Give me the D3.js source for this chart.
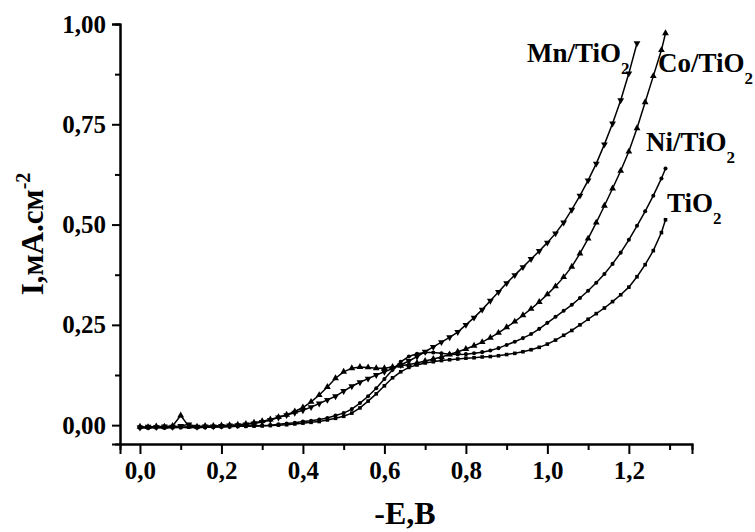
<!DOCTYPE html>
<html>
<head>
<meta charset="utf-8">
<script src="https://cdn.jsdelivr.net/npm/d3@7"></script>
<style>
  body { margin: 0; background: #fff; }
  text { font-family: "Liberation Serif", "Times New Roman", serif; font-weight: bold; fill: #000; }
</style>
</head>
<body>
<div id="ch"></div>
<script>
// Polarisation curves, -E (V) vs I (mA/cm2)

const potential = [0.00,0.02,0.04,0.06,0.08,0.10,0.12,0.14,0.16,0.18,
  0.20,0.22,0.24,0.26,0.28,0.30,0.32,0.34,0.36,0.38,
  0.40,0.42,0.44,0.46,0.48,0.50,0.52,0.54,0.56,0.58,
  0.60,0.62,0.64,0.66,0.68,0.70,0.72,0.74,0.76,0.78,
  0.80,0.82,0.84,0.86,0.88,0.90,0.92,0.94,0.96,0.98,
  1.00,1.02,1.04,1.06,1.08,1.10,1.12,1.14,1.16,1.18,
  1.20,1.22,1.24,1.26,1.28,1.29];

const mnTiO2 = [-0.006,-0.004,-0.005,-0.003,-0.004,-0.002,0.002,-0.004,-0.003,-0.003,
  -0.002,-0.001,0.000,0.002,0.004,0.008,0.013,0.019,0.025,0.031,
  0.037,0.045,0.054,0.063,0.072,0.085,0.097,0.107,0.116,0.125,
  0.133,0.141,0.150,0.160,0.171,0.183,0.195,0.207,0.219,0.232,
  0.250,0.268,0.288,0.310,0.332,0.354,0.374,0.394,0.414,0.434,
  0.455,0.478,0.505,0.537,0.572,0.610,0.652,0.700,0.752,0.810,
  0.877,0.952];

const coTiO2 = [-0.004,-0.005,-0.003,-0.004,-0.002,0.024,-0.003,-0.004,-0.002,-0.002,
  -0.001,0.000,0.001,0.003,0.006,0.010,0.014,0.020,0.026,0.034,
  0.044,0.058,0.075,0.095,0.117,0.133,0.142,0.145,0.144,0.142,
  0.142,0.145,0.148,0.151,0.155,0.160,0.165,0.170,0.176,0.183,
  0.190,0.198,0.207,0.218,0.230,0.244,0.258,0.274,0.290,0.307,
  0.326,0.346,0.369,0.395,0.428,0.465,0.505,0.547,0.590,0.634,
  0.682,0.740,0.805,0.870,0.935,0.977];

const niTiO2 = [-0.007,-0.006,-0.006,-0.005,-0.006,-0.005,-0.004,-0.005,-0.006,-0.004,
  -0.004,-0.003,-0.003,-0.002,-0.002,-0.001,0.000,0.002,0.004,0.006,
  0.009,0.011,0.014,0.018,0.024,0.030,0.040,0.055,0.072,0.092,
  0.115,0.138,0.158,0.171,0.178,0.181,0.181,0.179,0.177,0.176,
  0.177,0.179,0.182,0.186,0.192,0.200,0.208,0.217,0.227,0.240,
  0.255,0.270,0.285,0.300,0.317,0.335,0.355,0.377,0.402,0.430,
  0.462,0.497,0.533,0.572,0.615,0.640];

const tiO2 = [-0.005,-0.007,-0.006,-0.007,-0.006,-0.006,-0.005,-0.006,-0.005,-0.005,
  -0.004,-0.004,-0.003,-0.003,-0.002,-0.002,-0.001,0.000,0.001,0.003,
  0.005,0.007,0.009,0.013,0.017,0.022,0.030,0.043,0.060,0.078,
  0.098,0.118,0.133,0.144,0.150,0.155,0.158,0.161,0.163,0.165,
  0.167,0.168,0.170,0.171,0.173,0.176,0.179,0.183,0.188,0.194,
  0.202,0.212,0.224,0.236,0.250,0.264,0.278,0.292,0.308,0.325,
  0.344,0.370,0.400,0.435,0.480,0.512];

const seriesNames = ["Mn/TiO", "Co/TiO", "Ni/TiO", "TiO"];
const xMajor = [0, 0.2, 0.4, 0.6, 0.8, 1.0, 1.2];
const xMinor = [0.1, 0.3, 0.5, 0.7, 0.9, 1.1, 1.3];
const yMajor = [0, 0.25, 0.5, 0.75, 1.0];
const yMinor = [0.125, 0.375, 0.625, 0.875];

/* Dimensions */

const width = 755;
const height = 532;

const svg = d3
  .select("#ch")
  .append("svg")
  .attr("width", width)
  .attr("height", height);

const x = d3.scaleLinear().domain([-0.049, 1.355]).range([120, 692]);
const y = d3.scaleLinear().domain([-0.047, 1.0]).range([444, 24]);

const loc = d3.formatLocale({ decimal: ",", thousands: " ", grouping: [3], currency: ["", ""] });

/* Axes */

const xAxis = svg.append("g").attr("transform", "translate(0,444)");
xAxis.call(d3.axisBottom(x).tickValues(xMinor).tickSize(6).tickFormat(""));
xAxis.append("g").call(d3.axisBottom(x).tickValues(xMajor).tickSize(10).tickPadding(7).tickFormat(loc.format(".1f")));

const yAxis = svg.append("g").attr("transform", "translate(120,0)");
yAxis.call(d3.axisLeft(y).tickValues(yMinor).tickSize(5).tickFormat(""));
yAxis.append("g").call(d3.axisLeft(y).tickValues(yMajor).tickSize(8).tickPadding(6).tickFormat(loc.format(".2f")));

svg.selectAll(".domain").attr("stroke", "#000").attr("stroke-width", 2);
svg.selectAll(".tick line").attr("stroke", "#000").attr("stroke-width", 2);
svg.selectAll(".tick text")
  .style("font-family", "'Liberation Serif', serif")
  .style("font-weight", "bold")
  .style("font-size", "25px")
  .attr("fill", "#000");

/* Axis titles */

svg.append("text")
  .attr("x", 405)
  .attr("y", 524)
  .attr("text-anchor", "middle")
  .style("font-size", "32px")
  .text("-E,B");

const yt = svg.append("text")
  .attr("transform", "translate(43,234) rotate(-90)")
  .attr("text-anchor", "middle")
  .style("font-size", "31px");
yt.append("tspan").text("I,мА.см");
yt.append("tspan").attr("dy", -13).style("font-size", "20px").text("-2");

/* Curves */

const series = [
  { name: seriesNames[0], values: mnTiO2, sym: d3.symbolTriangle, rot: 180 },
  { name: seriesNames[1], values: coTiO2, sym: d3.symbolTriangle, rot: 0 },
  { name: seriesNames[2], values: niTiO2, sym: d3.symbolCircle, rot: 0 },
  { name: seriesNames[3], values: tiO2, sym: d3.symbolSquare, rot: 0 }
];

const line = d3
  .line()
  .x((d) => x(d[0]))
  .y((d) => y(d[1]));

series.forEach((s) => {
  const pts = s.values.map((v, i) => [potential[i], v]);
  svg.append("path")
    .datum(pts)
    .attr("d", line)
    .attr("fill", "none")
    .attr("stroke", "#000")
    .attr("stroke-width", 1.5);
  svg.selectAll(null)
    .data(pts)
    .enter()
    .append("path")
    .attr("d", d3.symbol().type(s.sym).size(s.sym === d3.symbolTriangle ? 20 : 13))
    .attr("transform", (d) => "translate(" + x(d[0]) + "," + y(d[1]) + ") rotate(" + s.rot + ")")
    .attr("fill", "#000");
});

/* Labels */

const labelPos = [[527, 62], [658, 72], [646, 151], [667, 212]];

series.forEach((s, i) => {
  const t = svg.append("text")
    .attr("x", labelPos[i][0])
    .attr("y", labelPos[i][1])
    .style("font-size", "27px")
    .text(s.name);
  t.append("tspan").attr("dy", 12).style("font-size", "17px").text("2");
});
</script>
</body>
</html>
